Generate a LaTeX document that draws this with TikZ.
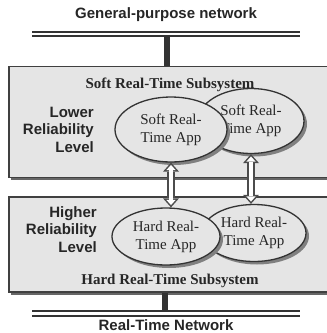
\documentclass[tikz,border=0pt]{standalone}
\usepackage{fontspec}
\setmainfont{Liberation Serif}
\setsansfont{Liberation Sans}
\usepackage{tikz}
\usetikzlibrary{shapes}
\usetikzlibrary{shadows}
\usetikzlibrary{arrows.meta}

\begin{document}
\begin{tikzpicture}[x=1pt,y=-1pt,
    netlabel/.style={font=\sffamily\bfseries\fontsize{15}{18}\selectfont,text=black!85,inner sep=0pt},
    levellabel/.style={font=\sffamily\bfseries\fontsize{15}{17.5}\selectfont,text=black!85,inner sep=0pt,align=right,anchor=east},
    subtitle/.style={font=\bfseries\fontsize{15}{18}\selectfont,text=black!85,inner sep=0pt},
    subsys/.style={rectangle,draw=black!75,line width=1.3pt,fill=black!10,inner sep=0pt,
      drop shadow={shadow xshift=1.5pt,shadow yshift=-2.5pt,fill=black!60,opacity=1}},
    app/.style={ellipse,draw=black!80,line width=1.3pt,fill=black!10,inner sep=0pt,align=center,
      font=\fontsize{15}{18}\selectfont,text=black!85,
      drop shadow={shadow xshift=3pt,shadow yshift=-3pt,fill=black!50,opacity=1}},
    bus/.style={draw=black!80,line width=1.8pt,double=white,double distance=2.5pt},
    bar/.style={draw=black!80,line width=6pt},
    dblout/.style={draw=black!70,line width=7.5pt,
      {Triangle[width=16pt,length=9pt,line width=0pt]}-{Triangle[width=16pt,length=9pt,line width=0pt]}},
    dblin/.style={draw=white,line width=4.5pt,shorten <=2.3pt,shorten >=2.3pt,
      {Triangle[width=9.3pt,length=5.2pt,line width=0pt]}-{Triangle[width=9.3pt,length=5.2pt,line width=0pt]}}]
    \path[use as bounding box] (0,0) rectangle (327,333);
    \clip (0,0) rectangle (327,333);

    \node[netlabel] (gpnet) at (166,15) {General-purpose network};
    \coordinate (gpleft) at (32,33.8);
    \coordinate (gpright) at (300,33.8);
    \coordinate (gpbus) at (167,33.8);

    \node[subsys,minimum width=336pt,minimum height=111pt] (softbox) at (177,122) {};
    \node[subsys,minimum width=336pt,minimum height=95pt] (hardbox) at (177,244.5) {};

    \draw[bar] (gpbus) -- (gpbus |- softbox.north);
    \draw[bus] (gpleft) -- (gpright);

    \node[subtitle] (softtitle) at (170,85) {Soft Real-Time Subsystem};
    \node[levellabel] (lowerlvl) at (94,129.5) {Lower\\Reliability\\Level};
    \node[app,minimum width=106pt,minimum height=65pt] (softappb) at (251,121) {Soft Real-\\Time App};
    \node[app,minimum width=112pt,minimum height=65pt] (softapp) at (171,129.5) {Soft Real-\\Time App};

    \node[levellabel] (higherlvl) at (97,229.5) {Higher\\Reliability\\Level};
    \node[app,minimum width=104pt,minimum height=57pt] (hardappb) at (254,233) {Hard Real-\\Time App};
    \node[app,minimum width=108pt,minimum height=57pt] (hardapp) at (166,236.5) {Hard Real-\\Time App};
    \node[subtitle] (hardtitle) at (170,281) {Hard Real-Time Subsystem};

    \draw[dblout] (softapp.south) -- (softapp.south |- hardapp.north);
    \draw[dblin] (softapp.south) -- (softapp.south |- hardapp.north);
    \draw[dblout] (softappb.south) -- (softappb.south |- hardappb.north);
    \draw[dblin] (softappb.south) -- (softappb.south |- hardappb.north);

    \coordinate (rtleft) at (32,313.5);
    \coordinate (rtright) at (300,313.5);
    \coordinate (rtbus) at (165,313.5);
    \draw[bar] (rtbus |- hardbox.south) -- (rtbus);
    \draw[bus] (rtleft) -- (rtright);
    \node[netlabel] (rtnet) at (166,325) {Real-Time Network};
\end{tikzpicture}
\end{document}
